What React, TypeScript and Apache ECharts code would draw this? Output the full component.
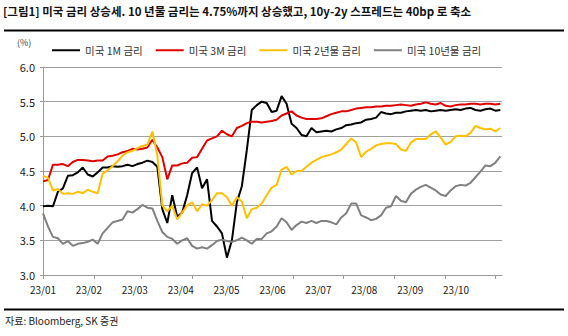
import React, { useEffect, useRef } from "react";
import * as echarts from "echarts";

// ---- data ----
const TITLE = "[그림1] 미국 금리 상승세. 10 년물 금리는 4.75%까지 상승했고, 10y-2y 스프레드는 40bp 로 축소";
const SOURCE = "자료: Bloomberg, SK 증권";
const UNIT = "(%)";
const seriesNames = ["미국 1M 금리", "미국 3M 금리", "미국 2년물 금리", "미국 10년물 금리"];
const monthLabels = ["23/01", "23/02", "23/03", "23/04", "23/05", "23/06", "23/07", "23/08", "23/09", "23/10"];

// calendar days covered by the x axis: 2023-01-01 .. 2023-10-05
const START_DATE = Date.UTC(2023, 0, 1);
const DAY_COUNT = 278;
// one reading every 3 calendar days, starting 2023-01-01
const SAMPLE_STEP = 3;

const rate1M = [
  3.99, 4.0, 3.99, 4.2, 4.25, 4.43, 4.44, 4.48, 4.55, 4.45,
  4.42, 4.48, 4.55, 4.55, 4.57, 4.56, 4.57, 4.59, 4.57, 4.6,
  4.62, 4.65, 4.63, 4.56, 3.95, 3.75, 4.15, 3.84, 3.9, 4.15,
  4.47, 4.55, 4.25, 4.38, 3.78, 3.7, 3.6, 3.25, 3.5, 4.05,
  4.28, 4.8, 5.38, 5.45, 5.5, 5.48, 5.35, 5.37, 5.58, 5.47,
  5.18, 5.12, 5.02, 5.0, 5.12, 5.06, 5.07, 5.08, 5.07, 5.1,
  5.12, 5.16, 5.17, 5.19, 5.2, 5.24, 5.25, 5.27, 5.35, 5.33,
  5.32, 5.34, 5.34, 5.36, 5.37, 5.38, 5.37, 5.38, 5.36, 5.37,
  5.38, 5.37, 5.38, 5.39, 5.38, 5.4, 5.41, 5.38, 5.37, 5.39,
  5.4, 5.37, 5.38,
];
const rate3M = [
  4.35, 4.37, 4.59, 4.59, 4.6, 4.57, 4.63, 4.66, 4.66, 4.65,
  4.64, 4.65, 4.65, 4.71, 4.72, 4.74, 4.77, 4.79, 4.82, 4.81,
  4.82, 4.84, 4.95, 4.84, 4.7, 4.38, 4.58, 4.58, 4.61, 4.62,
  4.69, 4.7, 4.82, 4.94, 4.97, 5.0, 5.08, 5.03, 5.0, 5.12,
  5.15, 5.19, 5.21, 5.21, 5.2, 5.21, 5.22, 5.24, 5.3, 5.33,
  5.36, 5.3, 5.27, 5.25, 5.25, 5.25, 5.26, 5.29, 5.32, 5.34,
  5.36, 5.36, 5.38, 5.4, 5.41, 5.42, 5.42, 5.43, 5.43, 5.44,
  5.44, 5.45, 5.46, 5.45, 5.44, 5.46, 5.47, 5.49, 5.47, 5.46,
  5.48, 5.44, 5.43, 5.45, 5.46, 5.46, 5.47, 5.47, 5.46, 5.47,
  5.47, 5.46, 5.47,
];
const rate2Y = [
  4.43, 4.4, 4.22, 4.24, 4.17, 4.18, 4.17, 4.2, 4.18, 4.23,
  4.2, 4.18, 4.46, 4.51, 4.57, 4.64, 4.72, 4.77, 4.79, 4.83,
  4.86, 4.88, 5.07, 4.72, 4.0, 3.92, 4.0, 3.8, 3.9, 4.0,
  4.05, 3.92, 4.02, 4.0, 4.08, 4.18, 4.18, 4.12, 4.0, 4.12,
  4.06, 3.82, 3.95, 3.97, 4.03, 4.15, 4.26, 4.3, 4.52, 4.56,
  4.45, 4.5, 4.5, 4.56, 4.62, 4.66, 4.7, 4.72, 4.74, 4.77,
  4.81, 4.89, 4.97, 4.91, 4.7, 4.78, 4.82, 4.87, 4.89, 4.9,
  4.9, 4.89, 4.81, 4.79, 4.91, 4.96, 4.96, 4.96, 5.03, 5.07,
  4.98, 4.88, 4.92, 5.0, 5.01, 5.0, 5.05, 5.15, 5.12, 5.1,
  5.11, 5.07, 5.12,
];
const rate10Y = [
  3.89, 3.7, 3.55, 3.53, 3.45, 3.49, 3.42, 3.45, 3.46, 3.48,
  3.51, 3.45, 3.6, 3.68, 3.76, 3.78, 3.8, 3.92, 3.9, 3.95,
  4.01, 3.97, 3.96, 3.78, 3.62, 3.55, 3.52, 3.45, 3.5, 3.53,
  3.42, 3.38, 3.4, 3.38, 3.43, 3.49, 3.51, 3.49, 3.48, 3.5,
  3.54, 3.5, 3.45, 3.52, 3.52, 3.6, 3.63, 3.7, 3.82, 3.76,
  3.65, 3.72, 3.77, 3.75, 3.78, 3.75, 3.78, 3.78, 3.76, 3.73,
  3.83, 3.89, 4.03, 4.03, 3.86, 3.83, 3.79, 3.81, 3.86, 3.97,
  3.99, 4.14, 4.07, 4.05, 4.17, 4.23, 4.27, 4.3, 4.26, 4.22,
  4.16, 4.14, 4.22, 4.28, 4.3, 4.29, 4.33, 4.41, 4.49, 4.58,
  4.57, 4.62, 4.71,
];
const seriesValues = [rate1M, rate3M, rate2Y, rate10Y];
const seriesColors = ["#000000", "#e00000", "#ffc000", "#808080"];

const FONT = "'Noto Sans CJK KR', 'Noto Sans', sans-serif";

function buildDays(): string[] {
  const out: string[] = [];
  for (let i = 0; i < DAY_COUNT; i++) {
    const d = new Date(START_DATE + i * 86400000);
    const mm = String(d.getUTCMonth() + 1).padStart(2, "0");
    const dd = String(d.getUTCDate()).padStart(2, "0");
    out.push(`${d.getUTCFullYear()}-${mm}-${dd}`);
  }
  return out;
}

export default function App() {
  const ref = useRef<HTMLDivElement>(null);

  useEffect(() => {
    if (!ref.current) return;
    const chart = echarts.init(ref.current, undefined, { renderer: "svg" });
    const days = buildDays();

    chart.setOption({
      animation: false,
      textStyle: { fontFamily: FONT },
      title: {
        text: TITLE,
        left: 3,
        top: 5,
        padding: 0,
        textStyle: { fontSize: 11.5, fontWeight: "bold", color: "#111", fontFamily: FONT },
      },
      legend: {
        data: seriesNames,
        left: 52,
        top: 45,
        padding: 0,
        icon: "rect",
        itemWidth: 28,
        itemHeight: 2,
        itemGap: 13,
        textStyle: { fontSize: 10.5, color: "#333", fontFamily: FONT },
      },
      graphic: [
        { type: "line", shape: { x1: 4, y1: 30.5, x2: 564, y2: 30.5 }, style: { stroke: "#000", lineWidth: 2 } },
        { type: "line", shape: { x1: 4, y1: 309.5, x2: 564, y2: 309.5 }, style: { stroke: "#000", lineWidth: 2 } },
        { type: "text", left: 17, top: 38, style: { text: UNIT, fontSize: 9, fill: "#444", fontFamily: FONT } },
        { type: "text", left: 5, top: 315, style: { text: SOURCE, fontSize: 10, fill: "#222", fontFamily: FONT } },
      ],
      grid: { left: 43, right: 66, top: 67, bottom: 61, containLabel: false },
      xAxis: [
        {
          type: "category",
          data: days,
          boundaryGap: false,
          axisLine: { lineStyle: { color: "#999", width: 1 } },
          axisTick: {
            interval: (_i: number, v: string) => v.endsWith("-01"),
            length: 4,
            lineStyle: { color: "#999" },
          },
          axisLabel: { show: false },
          splitLine: { show: false },
        },
        {
          type: "category",
          data: [...monthLabels, ""],
          boundaryGap: false,
          position: "bottom",
          axisLine: { show: false },
          axisTick: { show: false },
          axisLabel: { interval: 0, fontSize: 10, color: "#222", margin: 9, fontFamily: FONT },
          splitLine: { show: false },
        },
      ],
      yAxis: {
        type: "value",
        min: 3,
        max: 6,
        interval: 0.5,
        axisLine: { show: true, lineStyle: { color: "#999" } },
        axisTick: { show: true, length: 3, lineStyle: { color: "#999" } },
        axisLabel: {
          formatter: (v: number) => v.toFixed(1),
          fontSize: 11,
          color: "#222",
          margin: 8,
          fontFamily: FONT,
        },
        splitLine: { lineStyle: { color: "#a0a0a0", width: 1 } },
      },
      series: seriesNames.map((name, k) => ({
        name,
        type: "line",
        xAxisIndex: 0,
        showSymbol: false,
        symbol: "none",
        lineStyle: { color: seriesColors[k], width: 2 },
        itemStyle: { color: seriesColors[k] },
        data: seriesValues[k].map((v, i) => [i * SAMPLE_STEP, v]),
      })),
    });

    return () => chart.dispose();
  }, []);

  return (
    <div
      ref={ref}
      style={{ position: "absolute", left: 0, top: 0, width: 568, height: 336, background: "#fff" }}
    />
  );
}
